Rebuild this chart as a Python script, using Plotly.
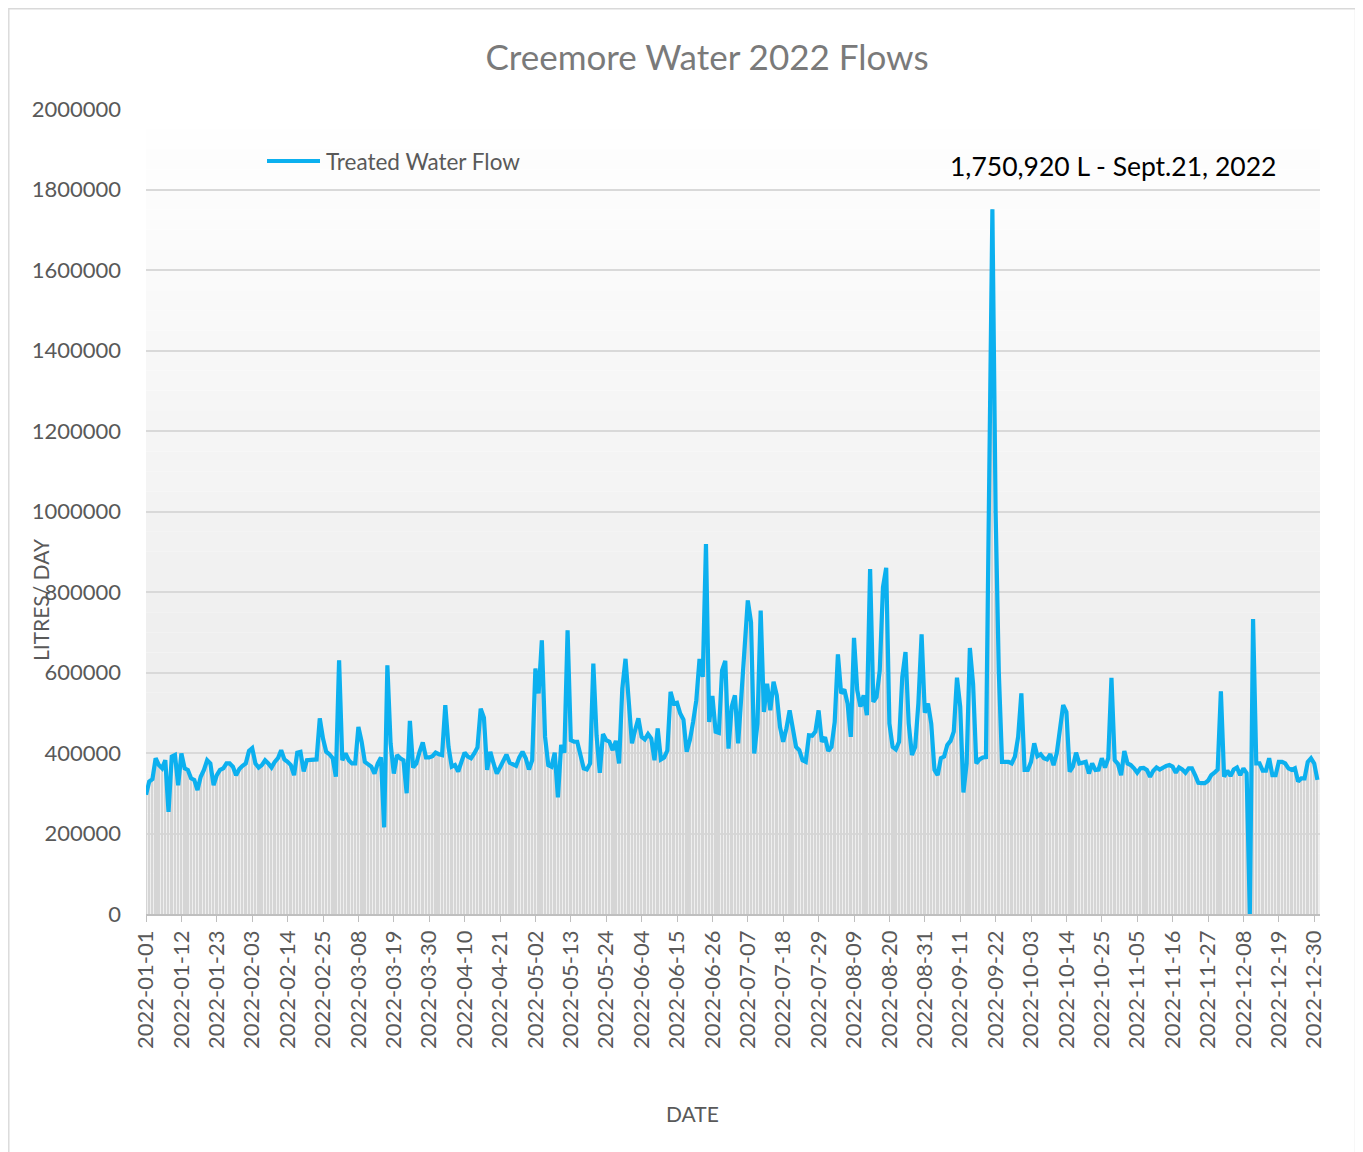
import pandas as pd
import plotly.graph_objects as go

# ---------------- data ----------------
start_date = "2022-01-01"
n_days = 365
dates = pd.date_range(start_date, periods=n_days, freq="D")

jan = [296000, 329000, 335000, 387000, 370000, 362000, 382000, 254000, 391000, 395000, 320000, 399000, 362000, 358000, 337000, 333000, 308000, 341000, 358000, 382000, 374000, 320000, 345000, 358000, 362000, 374000, 374000, 366000, 345000, 360000, 368000]
feb = [374000, 405000, 412000, 374000, 364000, 370000, 382000, 374000, 364000, 378000, 387000, 407000, 384000, 378000, 370000, 345000, 401000, 403000, 354000, 382000, 382000, 382000, 384000, 486000, 436000, 403000, 397000, 387000]
mar = [341000, 630000, 382000, 399000, 382000, 374000, 374000, 465000, 428000, 378000, 372000, 366000, 349000, 374000, 389000, 215000, 618000, 424000, 349000, 395000, 387000, 382000, 300000, 480000, 364000, 374000, 403000, 426000, 389000, 389000, 392000]
apr = [401000, 397000, 395000, 519000, 415000, 366000, 370000, 354000, 378000, 401000, 391000, 387000, 399000, 414000, 510000, 488000, 358000, 403000, 374000, 349000, 364000, 378000, 396000, 376000, 373000, 368000, 389000, 403000, 387000, 359000]
may = [382000, 610000, 548000, 680000, 440000, 370000, 366000, 401000, 290000, 420000, 401000, 705000, 432000, 428000, 428000, 391000, 362000, 359000, 374000, 622000, 444000, 351000, 447000, 432000, 428000, 407000, 430000, 374000, 560000, 634000, 530000]
jun = [424000, 457000, 486000, 440000, 434000, 447000, 436000, 382000, 461000, 384000, 389000, 406000, 552000, 523000, 525000, 498000, 483000, 403000, 432000, 477000, 531000, 634000, 589000, 919000, 477000, 542000, 453000, 450000, 605000, 629000]
jul = [411000, 515000, 543000, 424000, 535000, 680000, 779000, 725000, 399000, 473000, 754000, 502000, 572000, 506000, 577000, 543000, 465000, 428000, 461000, 506000, 461000, 415000, 407000, 382000, 378000, 444000, 443000, 453000, 506000, 428000, 439000]
aug = [405000, 415000, 477000, 645000, 548000, 558000, 523000, 440000, 686000, 556000, 515000, 543000, 494000, 857000, 527000, 539000, 605000, 812000, 860000, 473000, 415000, 409000, 428000, 589000, 651000, 473000, 395000, 415000, 523000, 695000, 500000]
sep = [523000, 473000, 358000, 345000, 387000, 391000, 420000, 430000, 453000, 587000, 515000, 302000, 374000, 661000, 572000, 374000, 384000, 389000, 390000, 1050000, 1750920, 1000000, 600000, 378000, 378000, 378000, 374000, 391000, 440000, 548000]
oct_ = [358000, 358000, 378000, 424000, 392000, 397000, 387000, 384000, 397000, 370000, 399000, 453000, 519000, 502000, 354000, 366000, 401000, 374000, 376000, 378000, 349000, 374000, 358000, 359000, 387000, 364000, 387000, 587000, 382000, 373000, 345000]
nov = [405000, 374000, 370000, 362000, 351000, 362000, 363000, 358000, 341000, 356000, 364000, 359000, 364000, 368000, 370000, 366000, 351000, 364000, 359000, 351000, 362000, 362000, 345000, 326000, 325000, 325000, 331000, 345000, 351000, 359000]
dec = [553000, 341000, 356000, 343000, 359000, 364000, 345000, 362000, 350000, 0, 733000, 374000, 374000, 356000, 356000, 387000, 345000, 345000, 378000, 378000, 374000, 362000, 358000, 362000, 329000, 337000, 337000, 378000, 387000, 374000, 333000]

treated_flow = jan + feb + mar + apr + may + jun + jul + aug + sep + oct_ + nov + dec
assert len(treated_flow) == n_days

tick_dates = pd.date_range(start_date, "2022-12-31", freq="11D")
y_ticks = [0, 200000, 400000, 600000, 800000, 1000000, 1200000, 1400000, 1600000, 1800000, 2000000]

title_text = "Creemore Water 2022 Flows"
series_name = "Treated Water Flow"
peak_label = "1,750,920 L - Sept.21, 2022"
y_title = "LITRES/ DAY"
x_title = "DATE"

# ---------------- figure ----------------
FONT = "Lato"
DAY_MS = 86400000
W, H = 1355, 1144          # page has an 8px body margin
PL, PT, PR, PB = 138, 101, 1312, 906   # plot area in figure pixels
PW, PH = PR - PL, PB - PT

def px(x):  # reference page x -> paper
    return (x - 8 - PL) / PW

def py(y):  # reference page y -> paper
    return (PB - (y - 8)) / PH

fig = go.Figure()

fig.add_trace(go.Bar(
    x=dates, y=treated_flow,
    width=0.55 * DAY_MS,
    marker=dict(color="#d5d5d5", line=dict(width=0)),
    showlegend=False, hoverinfo="skip",
))

fig.add_trace(go.Scatter(
    x=dates, y=treated_flow, mode="lines", name=series_name,
    line=dict(color="#0cb0ef", width=4.2),
    showlegend=False,
))

shapes = []
n_bands = 40
for i in range(n_bands):
    y0 = i / n_bands
    y1 = (i + 1) / n_bands
    t = min(1.0, (1 - (y0 + y1) / 2) / 0.65)
    c = int(round(255 - 16 * t))
    shapes.append(dict(type="rect", xref="paper", yref="paper", x0=0, x1=1, y0=y0, y1=y1,
                       fillcolor=f"rgb({c},{c},{c})", line=dict(width=0), layer="below"))
shapes.append(dict(type="rect", xref="paper", yref="paper",
                   x0=px(8.8), x1=px(1355.5), y0=py(1160), y1=py(8.8),
                   line=dict(color="#d9d9d9", width=1.4), fillcolor="rgba(0,0,0,0)", layer="below"))
shapes.append(dict(type="line", xref="paper", yref="paper",
                   x0=px(267), x1=px(320), y0=py(161), y1=py(161),
                   line=dict(color="#0cb0ef", width=4.2)))

annotations = [
    dict(text=series_name, xref="paper", yref="paper", x=px(324), y=py(162),
         xanchor="left", yanchor="middle", showarrow=False,
         font=dict(family=FONT, size=22.5, color="#595959")),
    dict(text=peak_label, xref="paper", yref="paper", x=px(1113), y=py(166),
         xanchor="center", yanchor="middle", showarrow=False,
         font=dict(family=FONT, size=26.5, color="#000000")),
    dict(text=y_title, xref="paper", yref="paper", x=px(40), y=py(600),
         xanchor="center", yanchor="middle", showarrow=False, textangle=-90,
         font=dict(family=FONT, size=21, color="#595959")),
    dict(text=x_title, xref="paper", yref="paper", x=px(692), y=py(1113),
         xanchor="center", yanchor="middle", showarrow=False,
         font=dict(family=FONT, size=21, color="#595959")),
]

fig.update_layout(
    width=W, height=H,
    margin=dict(l=PL, r=W - PR, t=PT, b=H - PB),
    paper_bgcolor="white", plot_bgcolor="white",
    title=dict(text=title_text, x=(707 - 8) / W, y=1 - (58 - 8) / H, xanchor="center", yanchor="middle",
               font=dict(family=FONT, size=35, color="#7a7a7a")),
    shapes=shapes, annotations=annotations,
    bargap=0, showlegend=False,
    font=dict(family=FONT, color="#595959"),
)

fig.update_xaxes(
    type="date",
    range=[pd.Timestamp(start_date), pd.Timestamp(start_date) + pd.Timedelta(days=364.8)],
    tickvals=tick_dates, tickformat="%Y-%m-%d", tickangle=-90,
    tickfont=dict(family=FONT, size=22, color="#595959"),
    showgrid=False, showline=True, linecolor="#bfbfbf", linewidth=1.5,
    ticks="outside", ticklen=6, tickcolor="#bfbfbf", tickwidth=1.2,
    zeroline=False,
)
fig.update_yaxes(
    range=[0, 2000000], tickvals=y_ticks, tickformat="d",
    tickfont=dict(family=FONT, size=22, color="#595959"),
    showgrid=True, gridcolor="#d9d9d9", gridwidth=1.5,
    zeroline=False, showline=False, ticks="", ticklabelstandoff=24,
)

fig.write_html("out.html")
